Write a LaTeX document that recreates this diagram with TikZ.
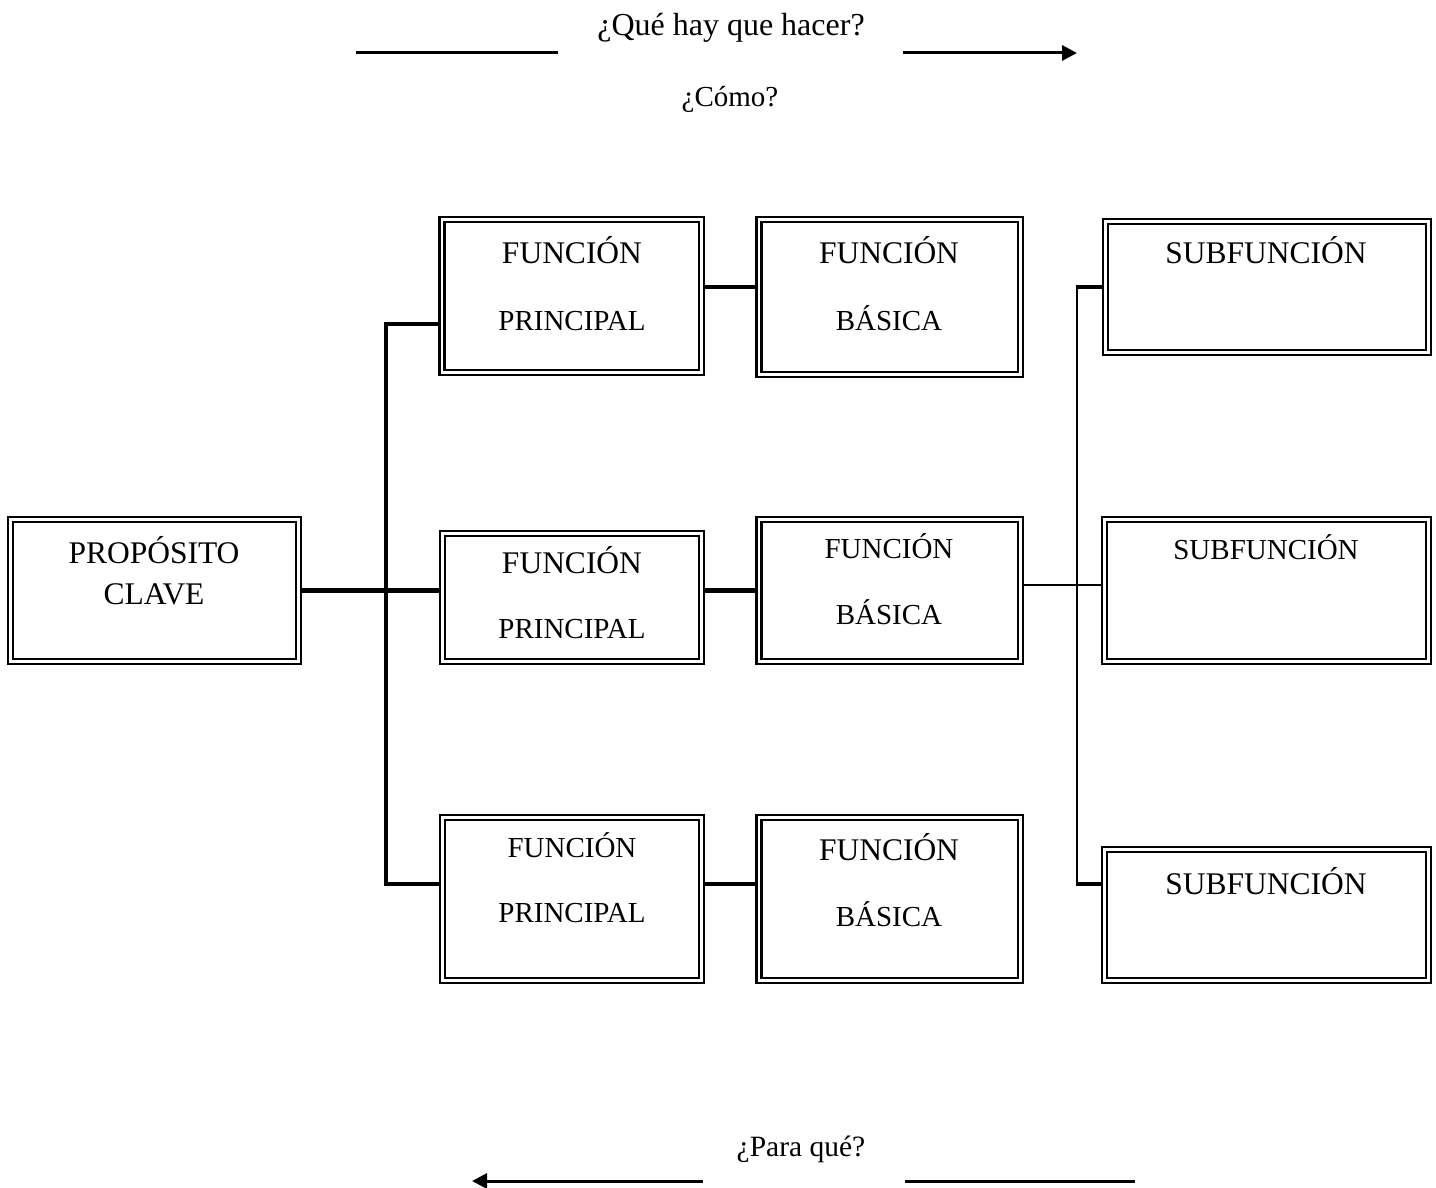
\documentclass[tikz,border=0pt]{standalone}
\usepackage{fontspec}
\setmainfont{Liberation Serif}
\usetikzlibrary{arrows.meta}
\pgfdeclarelayer{bg}
\pgfsetlayers{bg,main}
\begin{document}
\begin{tikzpicture}[x=1pt,y=-1pt,
  box/.style={draw, line width=2.5pt, double=white, double distance=2.4pt, rectangle, inner sep=0pt, outer sep=0pt},
  big/.style={anchor=base, inner sep=0pt, font=\fontsize{31.5}{36}\selectfont},
  small/.style={anchor=base, inner sep=0pt, font=\fontsize{29}{34}\selectfont},
  heavy/.style={line width=4.2pt},
  light/.style={line width=1.8pt},
  guide/.style={line width=3pt},
  guidearrow/.style={line width=3pt, -{Triangle[length=15pt,width=15pt]}}
]
\useasboundingbox (0,0) rectangle (1436,1188);

% boxes
\node[box, minimum width=288pt, minimum height=142pt] (pc) at (154.5,590.5) {};
\node[box, minimum width=259.5pt, minimum height=153pt] (fp1) at (571.75,296) {};
\node[box, minimum width=261.5pt, minimum height=155pt] (fb1) at (889.75,297) {};
\node[box, minimum width=323pt, minimum height=131pt] (sf1) at (1267,287) {};
\node[box, minimum width=259pt, minimum height=128pt] (fp2) at (572,597.5) {};
\node[box, minimum width=261.5pt, minimum height=142pt] (fb2) at (889.75,590.5) {};
\node[box, minimum width=324pt, minimum height=142pt] (sf2) at (1266.5,590.5) {};
\node[box, minimum width=259pt, minimum height=163pt] (fp3) at (572,899) {};
\node[box, minimum width=261.5pt, minimum height=163pt] (fb3) at (889.75,899) {};
\node[box, minimum width=324pt, minimum height=131pt] (sf3) at (1266.5,915) {};

% box texts
\node[big] (pct1) at (154,563) {PROPÓSITO};
\node[big] (pct2) at (154,604.5) {CLAVE};
\node[big] (fp1t1) at (572,263.5) {FUNCIÓN};
\node[small] (fp1t2) at (572,330.6) {PRINCIPAL};
\node[big] (fb1t1) at (889,263.5) {FUNCIÓN};
\node[small] (fb1t2) at (889,330.6) {BÁSICA};
\node[big] (sf1t) at (1266,263.5) {SUBFUNCIÓN};
\node[big] (fp2t1) at (572,573.5) {FUNCIÓN};
\node[small] (fp2t2) at (572,638.6) {PRINCIPAL};
\node[small] (fb2t1) at (889,558.6) {FUNCIÓN};
\node[small] (fb2t2) at (889,624.6) {BÁSICA};
\node[small] (sf2t) at (1266,559.6) {SUBFUNCIÓN};
\node[small] (fp3t1) at (572,857.6) {FUNCIÓN};
\node[small] (fp3t2) at (572,922.6) {PRINCIPAL};
\node[big] (fb3t1) at (889,860.5) {FUNCIÓN};
\node[small] (fb3t2) at (889,926.6) {BÁSICA};
\node[big] (sf3t) at (1266,894.5) {SUBFUNCIÓN};

% guide texts
\node[anchor=base, inner sep=0pt, font=\fontsize{32}{36}\selectfont] (que) at (731,36) {¿Qué hay que hacer?};
\node[small] (como) at (730,107) {¿Cómo?};
\node[anchor=base, inner sep=0pt, font=\fontsize{29.5}{34}\selectfont] (para) at (801,1156) {¿Para qué?};

% coordinates
\coordinate (b1) at (386,324);
\coordinate (b3) at (386,884);
\coordinate (r1) at (0,287);
\coordinate (r3) at (0,884);
\coordinate (s1) at (1077,287);
\coordinate (s3) at (1077,884);
\coordinate (s2) at (0,585);
\coordinate (tl1) at (356,53);
\coordinate (tl2) at (558,53);
\coordinate (ta1) at (903,53);
\coordinate (ta2) at (1077,53);
\coordinate (ba1) at (703,1181);
\coordinate (ba2) at (472,1181);
\coordinate (bl1) at (905,1181);
\coordinate (bl2) at (1135,1181);

\begin{pgfonlayer}{bg}
\draw[heavy] (pc.east) -- (pc.east -| fp2.west);
\draw[heavy, line cap=rect] (fp1.west |- b1) -- (b1) -- (b3) -- (fp3.west |- b3);
\draw[heavy] (fp1.east |- r1) -- (fb1.west |- r1);
\draw[heavy] (fp2.east |- pc.east) -- (fb2.west |- pc.east);
\draw[heavy] (fp3.east |- r3) -- (fb3.west |- r3);
\draw[light] (s1) -- (s3);
\draw[heavy] ([xshift=-0.9pt]s1) -- (sf1.west |- s1);
\draw[heavy] ([xshift=-0.9pt]s3) -- (sf3.west |- s3);
\draw[light] (fb2.east |- s2) -- (sf2.west |- s2);
\end{pgfonlayer}

\draw[guide] (tl1) -- (tl2);
\draw[guidearrow] (ta1) -- (ta2);
\draw[guidearrow] (ba1) -- (ba2);
\draw[guide] (bl1) -- (bl2);
\end{tikzpicture}
\end{document}
